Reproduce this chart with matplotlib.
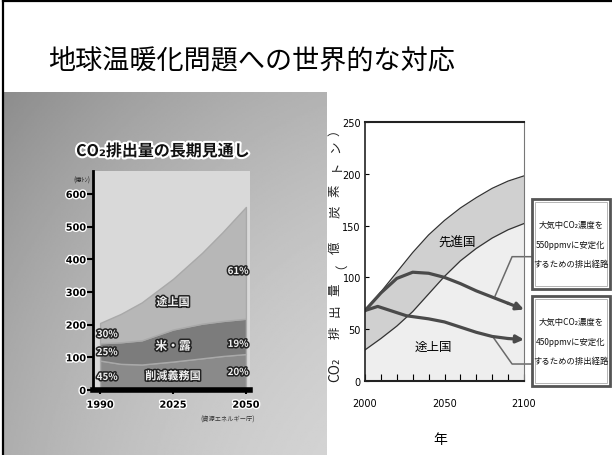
import numpy as np
import matplotlib.pyplot as plt
import matplotlib.patheffects as pe
from matplotlib.patches import Rectangle
from matplotlib.lines import Line2D

plt.rcParams['font.family'] = ['Noto Sans CJK JP', 'DejaVu Sans']

W, H = 612, 456

# Left chart: CO2 emissions outlook (100 million t), stacked by group
years_l = [1990, 2000, 2010, 2025, 2035, 2042, 2050]
obligated = [90, 80, 78, 87, 97, 104, 110]       # 削減義務国
us_russia = [53, 66, 74, 98, 106, 107, 108]      # 米・露
developing = [62, 87, 116, 155, 217, 272, 342]   # 途上国
year_ticks_l = [1990, 2025, 2050]
share_1990 = ['45%', '25%', '30%']
share_2050 = ['20%', '19%', '61%']

# Right chart: emission paths (100 million t carbon)
years_r = [2000, 2010, 2020, 2030, 2040, 2050, 2060, 2070, 2080, 2090, 2100]
upper_band = [67, 86, 105, 124, 141, 155, 167, 177, 186, 193, 198]
lower_band = [30, 41, 53, 67, 84, 101, 116, 128, 138, 146, 152]
path550 = [68, 85, 99, 105, 104, 100, 94, 87, 81, 75, 69]
years_450 = [2000, 2008, 2020, 2026, 2040, 2050, 2060, 2070, 2080, 2090, 2100]
path450 = [68, 72, 66, 63, 60, 57, 52, 47, 43, 41, 40]
leader550_x, leader550_y = [2081.8, 2092.5, 2105], [82, 120, 120]
leader450_x, leader450_y = [2080.5, 2092.5, 2105], [42.5, 16.4, 16.4]
box_text = ['大気中CO₂濃度を\n550ppmvに安定化\nするための排出経路',
            '大気中CO₂濃度を\n450ppmvに安定化\nするための排出経路']
# y label of the right chart, one glyph at a time (bottom to top)
ylabel_chars = ['CO₂', '排', '出', '量', '（', '億', '炭', '素', 'ト', 'ン', '）']
ylabel_px = [370, 333, 311, 290, 263, 248, 212, 191, 165, 147, 130]


def px_rect(left, top, right, bottom):
    # pixel box -> figure fraction [l, b, w, h]
    return [left / W, 1 - bottom / H, (right - left) / W, (bottom - top) / H]


fig = plt.figure(figsize=(W / 100, H / 100), dpi=100)

# slide border and title
fig.add_artist(Line2D([3 / W, 3 / W], [0, 1 - 2 / H], color='black', lw=1.6))
fig.add_artist(Line2D([3 / W, 1], [1 - 2 / H, 1 - 2 / H], color='black', lw=1.6))
fig.text(48 / W, 1 - 62 / H, '地球温暖化問題への世界的な対応', fontsize=19.5,
         ha='left', va='center', color='black')

# gray TV-screen background of the left picture
bg = fig.add_axes(px_rect(4, 93, 327, 456))
yy, xx = np.mgrid[0:1:200j, 0:1:200j]
shade = 0.60 + 0.14 * xx + 0.12 * yy - 0.08 * ((xx - 0.55) ** 2 + (yy - 0.55) ** 2)
bg.imshow(shade, cmap='gray', vmin=0, vmax=1, aspect='auto',
          extent=[0, 1, 0, 1], origin='upper')
bg.axis('off')

halo = [pe.withStroke(linewidth=2, foreground='white')]
outline = [pe.withStroke(linewidth=2.2, foreground='#222222')]


def fwd(x):
    x = np.asarray(x, float)
    return np.where(x < 2025, (x - 1990) / 35, 1 + (x - 2025) / 25)


def inv(p):
    p = np.asarray(p, float)
    return np.where(p < 1, 1990 + 35 * p, 2025 + 25 * (p - 1))


ax1 = fig.add_axes(px_rect(93, 172, 250, 391))
ax1.set_facecolor('#d9d9d9')
ax1.set_xscale('function', functions=(fwd, inv))
ax1.stackplot(years_l, obligated, us_russia, developing,
              colors=['#8a8a8a', '#7c7c7c', '#b7b7b7'],
              edgecolor='#a9a9a9', linewidth=1)
ax1.set_xlim(1986.6, 2051.4)
ax1.set_ylim(0, 670)
ax1.set_xticks(year_ticks_l)
ax1.set_xticklabels([str(y) for y in year_ticks_l])
ax1.set_yticks(range(0, 601, 100))
for s in ['top', 'right']:
    ax1.spines[s].set_visible(False)
ax1.spines['left'].set_linewidth(2)
ax1.spines['bottom'].set_linewidth(4)
ax1.tick_params(axis='y', direction='out', length=4, width=1.5, pad=1)
ax1.tick_params(axis='x', direction='out', length=3, width=1.5, pad=4)
for lbl in ax1.get_xticklabels() + ax1.get_yticklabels():
    lbl.set_fontsize(7)
    lbl.set_fontweight('bold')
    lbl.set_fontfamily('DejaVu Sans')
    lbl.set_path_effects(halo)

label_kw = dict(ha='center', va='center', color='#f2f2f2', fontweight='bold',
                path_effects=outline)
ax1.text(2025, 269, '途上国', fontsize=8, **label_kw)
ax1.text(2025, 134, '米・露', fontsize=8.5, **label_kw)
ax1.text(2025, 43, '削減義務国', fontsize=8, **label_kw)
for txt, y in zip(share_1990, [40, 116, 171]):
    ax1.text(1993.4, y, txt, fontsize=7, **label_kw)
for txt, y in zip(share_2050, [55, 141, 364]):
    ax1.text(2047.3, y, txt, fontsize=7, **label_kw)

fig.text(163 / W, 1 - 152 / H, 'CO₂排出量の長期見通し', fontsize=11.5,
         fontweight='bold', ha='center', va='center', color='#111111',
         path_effects=[pe.withStroke(linewidth=3, foreground='white')])
fig.text(82 / W, 1 - 181 / H, '(億ﾄﾝ)', fontsize=4.5, ha='center', va='center',
         color='#222222')
fig.text(228 / W, 1 - 420 / H, '(資源エネルギー庁)', fontsize=4.5, ha='center',
         va='center', color='#333333')

# right chart
ax2 = fig.add_axes(px_rect(365, 123, 524, 382))
ax2.fill_between(years_r, 0, lower_band, color='#eeeeee', lw=0)
ax2.fill_between(years_r, lower_band, upper_band, color='#d0d0d0', lw=0)
ax2.plot(years_r, upper_band, color='#333333', lw=0.9)
ax2.plot(years_r, lower_band, color='#333333', lw=0.9)
ax2.plot(leader550_x, leader550_y, color='#6a6a6a', lw=1.1, clip_on=False)
ax2.plot(leader450_x, leader450_y, color='#6a6a6a', lw=1.1, clip_on=False)
for xs, ys in [(years_r, path550), (years_450, path450)]:
    ax2.plot(xs[:-1], ys[:-1], color='#4a4a4a', lw=2.3, solid_capstyle='round')
    ax2.annotate('', xy=(xs[-1], ys[-1]), xytext=(xs[-2], ys[-2]),
                 arrowprops=dict(arrowstyle='-|>', color='#4a4a4a', lw=2.3,
                                 mutation_scale=11, shrinkA=0, shrinkB=0))
ax2.set_xlim(2000, 2100)
ax2.set_ylim(0, 250)
ax2.set_xticks([2000, 2050, 2100])
ax2.set_xticks(range(2000, 2101, 10), minor=True)
ax2.set_yticks(range(0, 251, 50))
ax2.tick_params(axis='both', which='both', direction='in', width=0.8)
ax2.tick_params(axis='x', which='major', length=5, pad=12)
ax2.tick_params(axis='x', which='minor', length=5)
ax2.tick_params(axis='y', length=3, pad=3)
for lbl in ax2.get_xticklabels() + ax2.get_yticklabels():
    lbl.set_fontsize(7)
    lbl.set_fontfamily('DejaVu Sans')
for s in ['top', 'bottom']:
    ax2.spines[s].set_linewidth(1.5)
    ax2.spines[s].set_color('#222222')
ax2.spines['left'].set_linewidth(1.2)
ax2.spines['left'].set_color('#222222')
ax2.spines['right'].set_linewidth(0.8)
ax2.spines['right'].set_color('#777777')
ax2.text(2058, 134, '先進国', fontsize=9, ha='center', va='center')
ax2.text(2043, 33, '途上国', fontsize=9, ha='center', va='center')

for ch, y in zip(ylabel_chars, ylabel_px):
    fig.text(335 / W, 1 - y / H, ch, rotation=90, fontsize=10 if ch == 'CO₂' else 9,
             ha='center', va='center', color='#222222')
fig.text(440 / W, 1 - 440 / H, '年', fontsize=10, ha='center', va='center')

# callout boxes
for (top, bottom), txt in zip([(200, 290), (297, 387)], box_text):
    fig.add_artist(Rectangle((532 / W, 1 - bottom / H), 78 / W, (bottom - top) / H,
                             transform=fig.transFigure, facecolor='white',
                             edgecolor='#555555', lw=2))
    fig.add_artist(Rectangle((535 / W, 1 - (bottom - 3) / H), 72 / W,
                             (bottom - top - 6) / H, transform=fig.transFigure,
                             facecolor='none', edgecolor='#aaaaaa', lw=0.6))
    fig.text(571 / W, 1 - (top + bottom) / 2 / H, txt, fontsize=6.0,
             ha='center', va='center', linespacing=2.5, color='#111111')

fig.savefig('out.png', dpi=100)
